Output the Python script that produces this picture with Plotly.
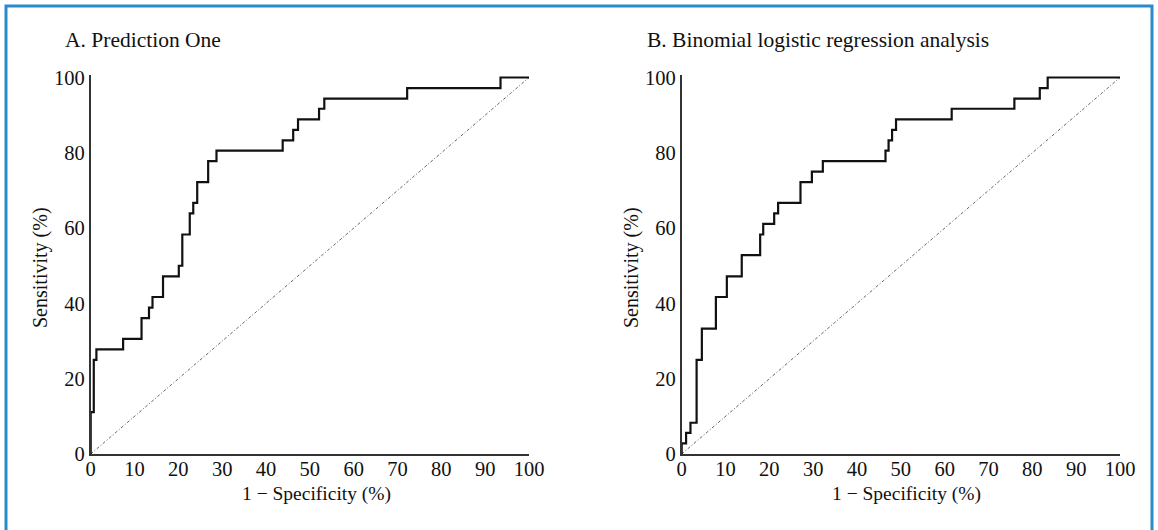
import plotly.graph_objects as go

# Panel A: Prediction One (ROC vertices, % values)
a_fpr = [0, 0, 0.7, 1.3, 7.4, 11.6, 13.3, 14.1, 16.5, 20.1, 20.9, 22.6, 23.4, 24.3,
         26.8, 28.7, 43.8, 46.2, 47.3, 52.1, 53.3, 72.2, 93.5, 100]
a_sens = [0, 11.1, 25.0, 27.8, 30.6, 36.1, 38.9, 41.7, 47.2, 50.0, 58.3, 63.9, 66.7, 72.2,
          77.8, 80.6, 83.3, 86.1, 88.9, 91.7, 94.4, 97.2, 100, 100]

# Panel B: Binomial logistic regression analysis
b_fpr = [0, 0, 1.0, 2.0, 3.4, 4.6, 7.8, 10.3, 13.7, 17.9, 18.6, 21.1, 22.0, 27.1, 29.7,
         32.2, 46.5, 47.2, 48.0, 48.9, 61.6, 75.9, 81.7, 83.5, 100]
b_sens = [0, 2.8, 5.6, 8.3, 25.0, 33.3, 41.7, 47.2, 52.8, 58.3, 61.1, 63.9, 66.7, 72.2, 75.0,
          77.8, 80.6, 83.3, 86.1, 88.9, 91.7, 94.4, 97.2, 100, 100]

ref_line = [0, 100]
tick_vals = [0, 10, 20, 30, 40, 50, 60, 70, 80, 90, 100]
y_tick_vals = [0, 20, 40, 60, 80, 100]

titles = ["A. Prediction One", "B. Binomial logistic regression analysis"]
x_title = "1 − Specificity (%)"
y_title = "Sensitivity (%)"

W, H = 1158, 530
FONT = "Liberation Serif"

fig = go.Figure()

for i, (fx, sy) in enumerate([(a_fpr, a_sens), (b_fpr, b_sens)]):
    xa = "x" if i == 0 else "x2"
    ya = "y" if i == 0 else "y2"
    fig.add_trace(go.Scatter(x=ref_line, y=ref_line, mode="lines",
                             line=dict(color="#666666", width=1, dash="3px,2px,1px,2px"),
                             xaxis=xa, yaxis=ya, showlegend=False, hoverinfo="skip"))
    fig.add_trace(go.Scatter(x=fx, y=sy, mode="lines", line_shape="hv",
                             line=dict(color="#111111", width=2.2),
                             cliponaxis=False,
                             xaxis=xa, yaxis=ya, showlegend=False))

def px_x(p):
    return p / W

def px_y(p):
    return (H - p) / H

Y_TOP = 100.6  # small headroom so the top step is not clipped
y_px_per = (454 - 77.5) / 100
xdoms = [[px_x(90.7), px_x(529)], [px_x(681.7), px_x(1120)]]
ydom = [px_y(454), px_y(454 - Y_TOP * y_px_per)]

axis_common = dict(showgrid=False, zeroline=False, showline=True,
                   linecolor="#333333", linewidth=1.5, ticks="", automargin=False,
                   tickfont=dict(family=FONT, size=20.5, color="#111111"))

fig.update_layout(
    width=W, height=H,
    margin=dict(l=0, r=0, t=0, b=0, pad=0, autoexpand=False),
    paper_bgcolor="white", plot_bgcolor="white",
    xaxis=dict(domain=xdoms[0], anchor="y", range=[0, 100], tickvals=tick_vals,
               ticklabelstandoff=-4, **axis_common),
    yaxis=dict(domain=ydom, anchor="x", range=[0, Y_TOP], tickvals=y_tick_vals, **axis_common),
    xaxis2=dict(domain=xdoms[1], anchor="y2", range=[0, 100], tickvals=tick_vals,
                ticklabelstandoff=-4, **axis_common),
    yaxis2=dict(domain=ydom, anchor="x2", range=[0, Y_TOP], tickvals=y_tick_vals, **axis_common),
    showlegend=False,
)

annots = []
title_x = [63, 645]
ytitle_x = [40, 631]
xtitle_cx = [316, 906]
for i in range(2):
    annots.append(dict(text=titles[i], x=px_x(title_x[i]), y=px_y(40), xref="paper", yref="paper",
                       xanchor="left", yanchor="middle", showarrow=False,
                       font=dict(family=FONT, size=21.5, color="#111111")))
    annots.append(dict(text=y_title, x=px_x(ytitle_x[i]), y=px_y(268), xref="paper", yref="paper",
                       xanchor="center", yanchor="middle", textangle=-90, showarrow=False,
                       font=dict(family=FONT, size=20, color="#111111")))
    annots.append(dict(text=x_title, x=px_x(xtitle_cx[i]), y=px_y(494), xref="paper", yref="paper",
                       xanchor="center", yanchor="middle", showarrow=False,
                       font=dict(family=FONT, size=19.5, color="#111111")))
fig.update_layout(annotations=annots)

fig.add_shape(type="rect", xref="paper", yref="paper",
              x0=px_x(6), x1=px_x(1152), y0=-0.2, y1=px_y(6),
              line=dict(color="#2a8bcb", width=3), fillcolor="rgba(0,0,0,0)", layer="above")

fig.write_html("out.html", config={"displayModeBar": False},
               post_script="document.body.style.margin='0';document.body.style.overflow='hidden';")
